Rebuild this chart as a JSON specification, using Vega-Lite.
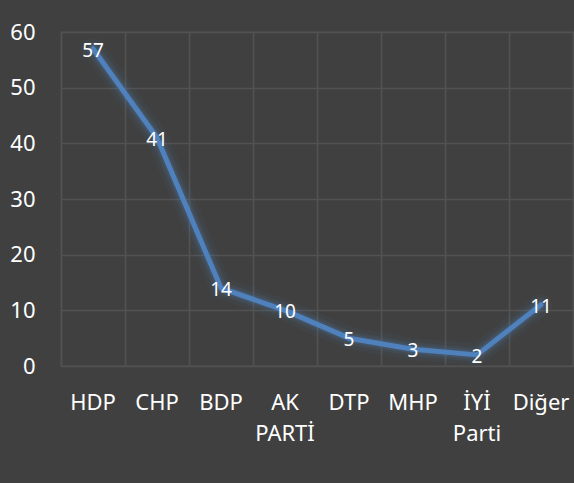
{
  "$schema": "https://vega.github.io/schema/vega-lite/v6.json",
  "width": 512,
  "height": 334,
  "autosize": {"type": "none"},
  "padding": {"left": 61, "top": 32, "right": 1, "bottom": 117},
  "background": "#404040",
  "config": {
    "view": {"stroke": "#525252", "strokeWidth": 1.3},
    "font": "Noto Sans",
    "axis": {"domain": false, "ticks": false, "tickSize": 0, "labelColor": "#ffffff", "labelFont": "Noto Sans", "labelFontSize": 22, "gridColor": "#525252", "gridWidth": 1.3, "title": null}
  },
  "data": {
    "values": [
      {"parti": "HDP", "deger": 57},
      {"parti": "CHP", "deger": 41},
      {"parti": "BDP", "deger": 14},
      {"parti": "AK PARTİ", "deger": 10},
      {"parti": "DTP", "deger": 5},
      {"parti": "MHP", "deger": 3},
      {"parti": "İYİ Parti", "deger": 2},
      {"parti": "Diğer", "deger": 11}
    ]
  },
  "encoding": {
    "x": {"field": "parti", "type": "nominal", "sort": null, "scale": {"type": "band", "paddingInner": 0, "paddingOuter": 0},
      "axis": {"orient": "bottom", "grid": true, "bandPosition": 0, "labels": false}},
    "y": {"field": "deger", "type": "quantitative", "scale": {"domain": [0, 60]},
      "axis": {"values": [0, 10, 20, 30, 40, 50, 60], "labelPadding": 26, "grid": true}}
  },
  "layer": [
    {"mark": {"type": "line", "color": "#4f81bd", "strokeWidth": 22, "opacity": 0.06, "strokeCap": "round", "strokeJoin": "round"}},
    {"mark": {"type": "line", "color": "#4f81bd", "strokeWidth": 14, "opacity": 0.1, "strokeCap": "round", "strokeJoin": "round"}},
    {"mark": {"type": "line", "color": "#4f81bd", "strokeWidth": 9, "opacity": 0.18, "strokeCap": "round", "strokeJoin": "round"}},
    {"mark": {"type": "line", "color": "#4f81bd", "strokeWidth": 5, "strokeCap": "round", "strokeJoin": "round"}},
    {"mark": {"type": "text", "color": "#ffffff", "font": "Noto Sans", "fontSize": 19, "baseline": "middle", "dy": 2},
      "encoding": {"text": {"field": "deger", "type": "quantitative"},
        "x": {"field": "parti", "type": "nominal", "sort": null,
          "axis": {"orient": "bottom", "grid": false, "labels": true, "labelExpr": "split(datum.label, ' ')", "labelPadding": 26, "labelLineHeight": 31, "labelAngle": 0}}}}
  ],
  "resolve": {"axis": {"x": "independent"}}
}
